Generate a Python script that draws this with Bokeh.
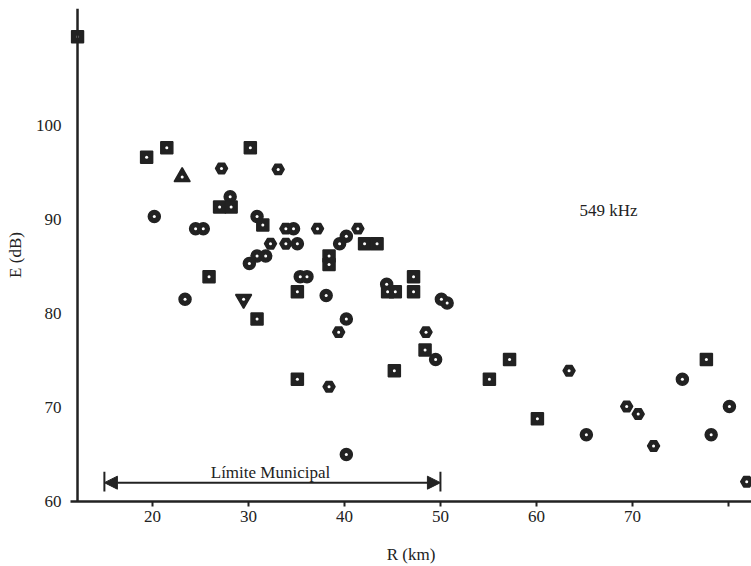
from bokeh.plotting import figure
from bokeh.models import Range1d, Arrow, NormalHead, Label, FixedTicker, ColumnDataSource
from bokeh.embed import file_html
from bokeh.resources import INLINE

# ---- data ----
r_km = [12.2, 19.4, 21.5, 23.1, 27.2, 30.2, 33.1, 20.2, 24.5, 25.3,
        28.1, 27.0, 28.2, 23.4, 25.9, 29.5, 30.9, 31.5, 33.9, 34.7,
        37.2, 41.4, 32.3, 33.9, 35.1, 40.2, 39.5, 42.1, 43.4, 30.9,
        31.8, 30.1, 38.4, 38.4, 35.4, 36.1, 35.1, 38.1, 44.4, 44.5,
        45.3, 47.2, 47.2, 50.1, 50.7, 30.9, 40.2, 39.4, 48.5, 48.4,
        49.5, 45.2, 35.1, 38.4, 40.2, 55.1, 57.2, 60.1, 63.4, 65.2,
        69.4, 70.6, 72.2, 75.2, 77.7, 80.1, 78.2, 81.9]
e_db = [109.4, 96.6, 97.6, 94.5, 95.4, 97.6, 95.3, 90.3, 89.0, 89.0,
        92.4, 91.3, 91.3, 81.5, 83.9, 81.5, 90.3, 89.4, 89.0, 89.0,
        89.0, 89.0, 87.4, 87.4, 87.4, 88.2, 87.4, 87.4, 87.4, 86.1,
        86.1, 85.3, 86.1, 85.2, 83.9, 83.9, 82.3, 81.9, 83.1, 82.3,
        82.3, 83.9, 82.3, 81.5, 81.1, 79.4, 79.4, 78.0, 78.0, 76.1,
        75.1, 73.9, 73.0, 72.2, 65.0, 73.0, 75.1, 68.8, 73.9, 67.1,
        70.1, 69.3, 65.9, 73.0, 75.1, 70.1, 67.1, 62.1]

x_ticks = [20, 30, 40, 50, 60, 70, 80]
y_ticks = [60, 70, 80, 90, 100]

limite_r = [15, 50]
limite_e = 62
limite_texto = "Límite Municipal"
freq_texto = "549 kHz"

# ---- styles ----
marcadores = ["square", "square", "square", "triangle", "hex", "square", "hex", "circle", "circle", "circle",
              "circle", "square", "square", "circle", "square", "inverted_triangle", "circle", "square", "hex", "circle",
              "hex", "hex", "hex", "hex", "circle", "circle", "circle", "square", "square", "circle",
              "circle", "circle", "square", "square", "circle", "circle", "square", "circle", "circle", "square",
              "square", "square", "square", "circle", "circle", "square", "circle", "hex", "hex", "square",
              "circle", "square", "square", "hex", "circle", "square", "square", "square", "hex", "circle",
              "hex", "hex", "hex", "circle", "square", "circle", "circle", "hex"]
tamanos = [16 if m in ("triangle", "inverted_triangle") else 12 for m in marcadores]

INK = "#222222"
FONT = "Liberation Serif"

p = figure(width=751, height=566, output_backend="svg", toolbar_location=None,
           x_range=Range1d(11.47, 82.4), y_range=Range1d(60, 112.4),
           min_border_left=70, min_border_right=0, min_border_top=8, min_border_bottom=65,
           outline_line_color=None, background_fill_color="white", border_fill_color="white")
p.grid.visible = False

# x axis
p.xaxis.ticker = FixedTicker(ticks=x_ticks)
p.xaxis.major_label_overrides = {80: ""}
p.xaxis.axis_line_color = INK
p.xaxis.axis_line_width = 2.5
p.xaxis.major_tick_line_color = INK
p.xaxis.major_tick_line_width = 2
p.xaxis.major_tick_out = 5
p.xaxis.major_tick_in = 0
p.xaxis.minor_tick_line_color = None
p.xaxis.major_label_standoff = 4
p.xaxis.axis_label = "R (km)"
p.xaxis.axis_label_standoff = 20

# y axis (line drawn separately at R = 12.2)
p.yaxis.ticker = FixedTicker(ticks=y_ticks)
p.yaxis.axis_line_color = None
p.yaxis.major_tick_line_color = None
p.yaxis.major_tick_out = 0
p.yaxis.major_tick_in = 0
p.yaxis.minor_tick_line_color = None
p.yaxis.major_label_standoff = 9
p.yaxis.axis_label = "E (dB)"
p.yaxis.axis_label_standoff = 8

for ax in (p.xaxis, p.yaxis):
    ax.major_label_text_font = FONT
    ax.major_label_text_font_size = "17px"
    ax.major_label_text_color = INK
    ax.axis_label_text_font = FONT
    ax.axis_label_text_font_size = "17px"
    ax.axis_label_text_font_style = "normal"
    ax.axis_label_text_color = INK

# y axis line
p.add_layout(Arrow(end=None, x_start=12.2, y_start=58.5, x_end=12.2, y_end=112.4,
                   line_color=INK, line_width=2.5))

# points
src = ColumnDataSource(dict(x=r_km, y=e_db, m=marcadores, s=tamanos))
p.scatter("x", "y", marker="m", size="s", source=src, fill_color=INK, line_color=INK, line_width=1.5)
p.scatter("x", "y", source=src, size=3, fill_color="white", line_color=None)

# Límite Municipal
p.add_layout(Arrow(start=NormalHead(size=13, fill_color=INK, line_color=INK),
                   end=NormalHead(size=13, fill_color=INK, line_color=INK),
                   x_start=limite_r[0], x_end=limite_r[1], y_start=limite_e, y_end=limite_e,
                   line_color=INK, line_width=2))
p.segment(x0=limite_r, x1=limite_r, y0=[limite_e - 0.95] * 2, y1=[limite_e + 1.15] * 2,
          line_color=INK, line_width=2)
p.add_layout(Label(x=(limite_r[0] + limite_r[1]) / 2 - 0.2, y=limite_e + 1.1, text=limite_texto,
                   text_align="center", text_baseline="middle", text_font=FONT,
                   text_font_size="17px", text_color=INK))
p.add_layout(Label(x=67.5, y=90.9, text=freq_texto, text_align="center", text_baseline="middle",
                   text_font=FONT, text_font_size="17px", text_color=INK))

open("out.html", "w").write(file_html(p, INLINE))
